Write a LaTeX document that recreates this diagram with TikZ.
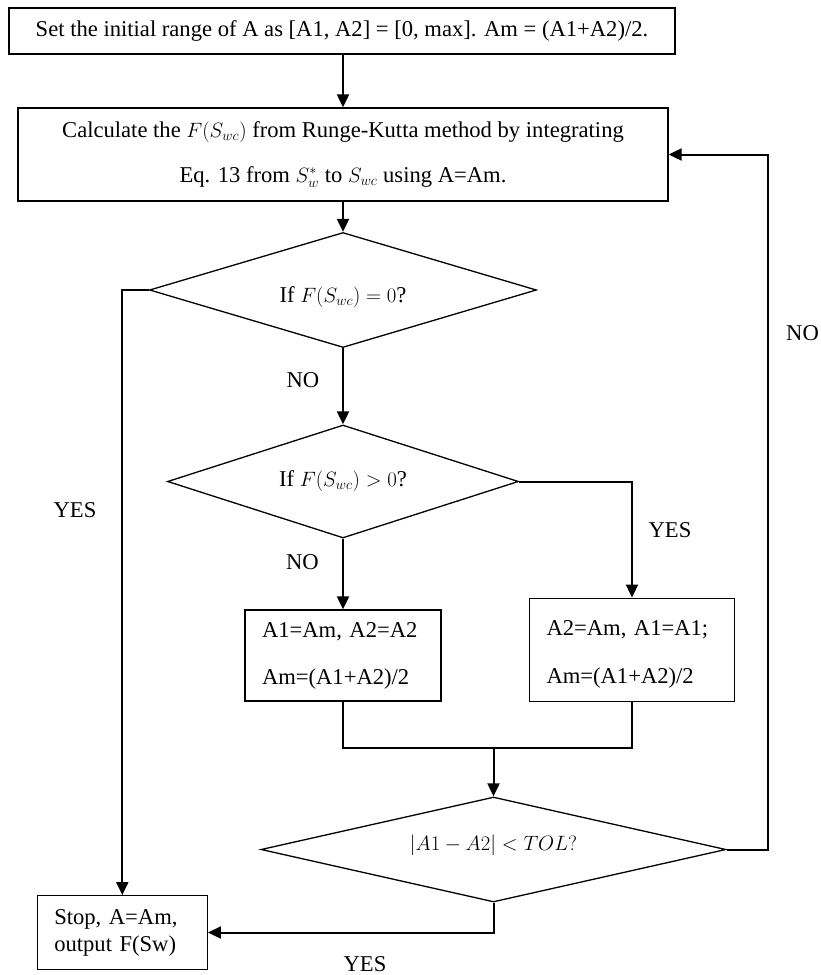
\documentclass[tikz,border=0pt]{standalone}
\usepackage{fontspec}
\setmainfont{Liberation Serif}
\usetikzlibrary{shapes.geometric,arrows.meta}
\begin{document}
\begin{tikzpicture}[x=1pt,y=-1pt,
  box/.style={draw,line width=1.3pt,rectangle,inner sep=0pt,font=\fontsize{22.6}{26}\selectfont},
  dia/.style={draw,line width=1.3pt,diamond,inner sep=0pt,font=\fontsize{22.6}{26}\selectfont},
  conn/.style={line width=2pt,-{Triangle[width=12pt,length=13pt]}},
  wire/.style={line width=2pt},
  lab/.style={font=\fontsize{22.6}{26}\selectfont,inner sep=0pt}]
\useasboundingbox (0,0) rectangle (821,975);
\node[box,minimum width=666pt,minimum height=46pt] (b1) at (342,31)
  {Set the initial range of A as [A1, A2] = [0, max]. Am = (A1+A2)/2.};
\node[box,minimum width=650pt,minimum height=93pt,align=center,font=\fontsize{22.6}{45}\selectfont] (b2) at (343,154.5)
  {Calculate the $F(S_{wc})$ from Runge-Kutta method by integrating\\ Eq. 13 from $S_w^*$ to $S_{wc}$ using A=Am.};
\node[dia,aspect=3.37,minimum width=387pt,minimum height=115pt,text height=28pt,text depth=3pt] (d1) at (343,290) {If $F(S_{wc})=0$?};
\node[dia,aspect=3.1,minimum width=351pt,minimum height=113pt] (d2) at (343,481.5) {If $F(S_{wc})>0$?};
\node[dia,aspect=4.43,minimum width=465pt,minimum height=105pt,text height=10pt,text depth=8pt] (d3) at (493.5,849.5) {$|A1-A2|<TOL?$};
\node[box,minimum height=91pt,text width=162pt,inner xsep=17pt,align=left,font=\fontsize{22.6}{47}\selectfont] (b3) at (343,655.5)
  {A1=Am, A2=A2\\Am=(A1+A2)/2};
\node[box,minimum height=103pt,text width=171pt,inner xsep=17pt,align=left,font=\fontsize{22.6}{48}\selectfont] (b4) at (632,649.7)
  {\rule{0pt}{25pt}A2=Am, A1=A1;\\Am=(A1+A2)/2};
\node[box,minimum height=73.6pt,text width=136pt,inner xsep=17pt,align=left,font=\fontsize{22.6}{27}\selectfont] (b5) at (122.3,932.5)
  {Stop, A=Am,\\output F(Sw)};
\coordinate (m) at (493.5,748);
\coordinate (r) at (768,0);
\draw[conn] (b2.north |- b1.south) -- (b2.north);
\draw[conn] (b2.south) -- (d1.north);
\draw[conn] (d1.south) -- (d2.north);
\draw[conn] (d1.west) -| (b5.north);
\draw[conn] (d2.south) -- (b3.north);
\draw[conn] (d2.east) -| (b4.north);
\draw[wire] (b3.south) -- (b3.south |- m) -- (b4.south |- m) -- (b4.south);
\draw[conn] (m) -- (d3.north);
\draw[conn] (d3.east) -- (d3.east -| r) -- (r |- b2.east) -- (b2.east);
\draw[conn] (d3.south) |- (b5.east);
\node[lab] (n1) at (303,380) {NO};
\node[lab] (n2) at (302.5,562) {NO};
\node[lab] (n3) at (802.5,333) {NO};
\node[lab] (y1) at (75,510) {YES};
\node[lab] (y2) at (670,530) {YES};
\node[lab] (y3) at (365,964) {YES};
\end{tikzpicture}
\end{document}
